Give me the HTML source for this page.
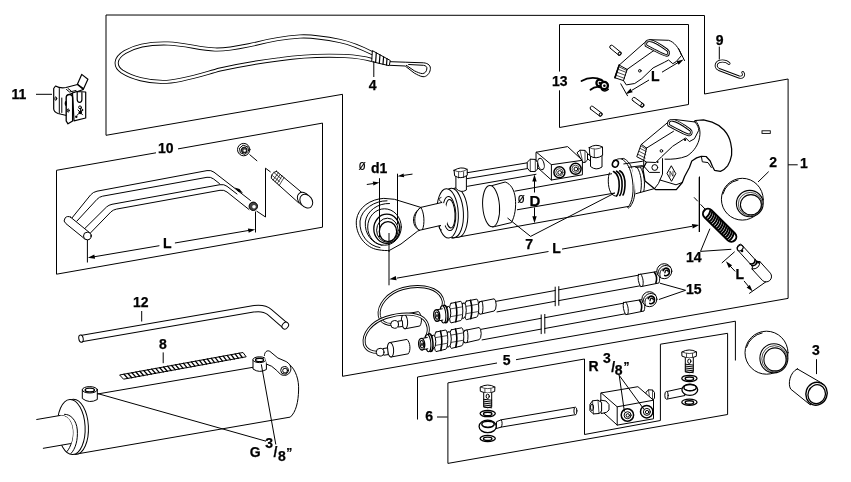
<!DOCTYPE html>
<html><head><meta charset="utf-8"><title>Hydraulic top link</title>
<style>
html,body{margin:0;padding:0;background:#fff;}
svg{display:block;}
text{font-family:"Liberation Sans",Arial,sans-serif;font-weight:bold;font-size:14px;fill:#000;stroke:#000;stroke-width:.25px;}
.s{font-weight:normal;font-size:13px;stroke-width:.15px;}
.f{fill:none;stroke:#000;stroke-width:1;}
.p{fill:#fff;stroke:#000;stroke-width:1;stroke-linejoin:round;stroke-linecap:round;}
.n{fill:none;stroke:#000;stroke-width:1;stroke-linejoin:round;stroke-linecap:round;}
.t{fill:none;stroke:#000;stroke-width:0.7;stroke-linejoin:round;stroke-linecap:round;}
.b{fill:none;stroke:#000;stroke-width:1.6;stroke-linejoin:round;stroke-linecap:round;}
.k{fill:#000;stroke:none;}
</style></head><body>
<svg width="851" height="482" viewBox="0 0 851 482">
<rect width="851" height="482" fill="#fff"/>
<g class="f">
<path d="M106,15 L704.5,15.5 V94 L788.1,79 V298.4 L342.5,376.3 V94.3 L106,135.3 Z"/>
<path d="M156,152.8 L56.5,170.3 V274.2 L322.5,227.2 V123.1 L178,148.9"/>
<path d="M559.5,71.6 V24.5 H688.5 V104.5 L559.5,127.5 V90.3"/>
<path d="M497,363 L417.5,377 V419.5"/>
<path d="M516,359.7 L735.4,321.2 V360.5"/>
<path d="M447.9,382.9 L584.5,359 V434.5 L660.4,420.5 V344.2 L727.6,333.3 V414.5 L447.9,463.4 Z"/>
<path d="M788.1,164.8 H797.7"/>
<path d="M437,417 H447.5"/>
</g>
<path d="M373,53.5 C 362,48 352,43.5 340,41 C 325,38 312,35.8 300,36.5 C 285,37.5 270,40 255,44 C 240,47 228,50 215,49.5 C 200,49 185,44 168,43.5 C 150,43 135,46 125,52 C 115,58 114,66 122,71.5 C 132,78 148,82 163,82 C 180,82 200,75 220,69.5 C 245,64 265,61 280,59.2 C 300,56.2 320,55 345,56 C 355,56.5 365,58 372,60" fill="none" stroke="#000" stroke-width="4.1" stroke-linecap="butt"/>
<path d="M373,53.5 C 362,48 352,43.5 340,41 C 325,38 312,35.8 300,36.5 C 285,37.5 270,40 255,44 C 240,47 228,50 215,49.5 C 200,49 185,44 168,43.5 C 150,43 135,46 125,52 C 115,58 114,66 122,71.5 C 132,78 148,82 163,82 C 180,82 200,75 220,69.5 C 245,64 265,61 280,59.2 C 300,56.2 320,55 345,56 C 355,56.5 365,58 372,60" fill="none" stroke="#fff" stroke-width="2.3" stroke-linecap="butt"/>
<path class="p" d="M372.7,50.8 L390.3,60.5 L389.2,65.7 L372.1,61.7 Z"/>
<path class="n" d="M376.3,52.8 L375.6,62.5 M380,54.8 L379.3,63.4 M383.6,56.8 L383,64.2 M387,58.7 L386.5,65" style="stroke-width:1.2"/>
<path class="n" d="M390.3,61.7 L405.2,62.2 L423.4,62.8 C 428.5,63.2 431,66 430.3,69.5 C 429.8,73.5 426.5,77 423,76.7 C 420,76.4 417,74.5 414.3,73.1 L405.2,66 L389.8,65.3"/>
<path class="n" d="M408.6,64.5 L423.4,65.3 C 426,65.6 427.3,67 426.8,69 C 426.5,71.5 425,73.5 422.3,73.6 C 420,73.5 417,72 414.3,70.8 L406.3,65.3"/>
<path class="f" d="M373.8,61 V77"/>
<g style="stroke-width:1.2">
<path class="f" d="M36,94.3 H52"/>
<path class="p" d="M77.4,84.3 L81.7,74.4 L87.9,79.3 L83.6,88.7 Z" style="stroke-width:1.2"/>
<path class="p" d="M55.5,86 L53.7,88.5 V109 Q54,112 58,113.5 L66.5,115.5 L66.5,96 L72.5,93 L77.5,91.5 L83.4,89.5 L77.5,84.5 L66,87.5 Q60,88.5 55.5,86 Z" style="stroke-width:1.2"/>
<path class="n" d="M59.3,88.5 V113 M61.8,98 V112.5 M66.5,89.5 L69.5,92 L76,90.5 M68,88.5 L71,90.8"/>
<path class="p" d="M72.5,93 L77,91.5 L85.7,92 V118 L74,120.8 Z" style="stroke-width:1.2"/>
<path class="p" d="M66.2,98 Q66.2,94.5 69.5,94.5 Q72.6,94.5 72.6,98 V121 L68,123.8 L66.2,121 Z" style="stroke-width:1.3"/>
<path class="n" d="M77.2,92 V99.5 Q77.4,102.3 79.5,102.3 Q81.9,102.3 81.9,99.5 V92.5" style="stroke-width:1.2"/>
<ellipse class="n" cx="55.8" cy="98.6" rx="0.9" ry="1.8"/>
<ellipse class="k" cx="65.8" cy="103.5" rx="1.1" ry="2.4"/>
<ellipse class="n" cx="68.2" cy="110.5" rx="0.9" ry="1.7"/>
<circle class="n" cx="80" cy="107.3" r="1.4"/>
<circle class="k" cx="80.3" cy="112.5" r="1.7"/>
<circle class="k" cx="76.3" cy="116.7" r="1.2"/>
<circle class="n" cx="81.5" cy="110" r="1.2"/>
<path class="n" d="M78,110 L82.5,114.8 M77.3,115 L82,110.5"/>
</g>
<g>
<path class="n" d="M71.7,218.3 L90.5,195 Q93,192 97,191.2 L207,170.6 Q211,169.9 214,172.2 L250.5,200.5"/>
<path class="n" d="M76.8,221.2 L97,199.3 Q99.2,196.9 102.5,196.2 L207,177.3 Q210.6,176.7 213.5,178.9 L219.5,183.6"/>
<path class="n" d="M85.1,228.2 L106.5,207 Q108.7,205 112,204.3 L220,184.7 Q224,184 227,186.3 L237,194"/>
<path class="n" d="M90.7,232.7 L111,211.8 Q113.1,209.8 116.5,209.1 L220,190.3 Q224,189.6 227,192 L249,209.5"/>
<path class="p" d="M70.6,217.2 L89.6,232.7 A3.8,3.8 0 1 1 84.9,239 L65.9,223.6 A3.9,3.9 0 0 1 70.6,217.2 Z"/>
<circle class="p" cx="87.3" cy="236" r="3.8"/>
<path class="k" d="M234.5,187.5 L239.5,189 L243,193.2 L238,191.5 Z"/>
<circle cx="253.3" cy="206.3" r="4.2" fill="#444" stroke="#000" stroke-width="1"/>
<circle cx="254" cy="206.8" r="1.8" fill="#fff"/>
<path class="f" d="M87.4,240 V262.5 M255.5,211.5 V232.5 M94,256.8 L159.4,245.7 M174.9,243 L249,230.4"/>
</g>
<path class="k" d="M87.8,257.8 L94.3,254.5 L95.1,258.8 Z"/>
<path class="k" d="M255.2,229.4 L248.7,232.7 L247.9,228.4 Z"/>
<g>
<circle class="p" cx="243.7" cy="149.6" r="6.2"/>
<path class="n" d="M248.3,151.4 L244.7,154.4 L240.3,152.8 L239.5,148.2 L243.1,145.2 L247.5,146.8 Z"/>
<circle cx="244.2" cy="150.1" r="2.9" fill="#444" stroke="#000" stroke-width="0.9"/>
<circle cx="244.7" cy="150.6" r="1.2" fill="#fff"/>
<path class="f" d="M249.5,154.5 L257.2,161 M270.6,172 L265.5,168.2 V217 L256.5,211"/>
<path class="p" d="M276.5,171.3 L304.3,194.6 L298.7,202.9 L271.3,178.3 Q270.8,173 276.5,171.3 Z"/>
<path class="t" d="M278.3,172.8 L273.2,180 M280.2,174.4 L275.2,181.8 M282.1,176 L277.2,183.6 M284,177.6 L279.2,185.4 M274,172.6 L281,178.5 M272,175.3 L279.5,181.5"/>
<ellipse class="p" cx="303.8" cy="199.2" rx="5.8" ry="7.4" transform="rotate(-38 303.8 199.2)"/>
<ellipse class="p" cx="306.3" cy="201.2" rx="5.8" ry="7.4" transform="rotate(-38 306.3 201.2)"/>
</g>
<path class="f" d="M389,233 V285.3 M699.5,176.5 V232 M397,278.1 L548.5,251.5 M562,249.1 L692,226.3"/>
<path class="k" d="M389.3,279.3 L395.8,275.9 L396.6,280.3 Z"/>
<path class="k" d="M699.2,225.0 L692.7,228.4 L691.9,224.0 Z"/>
<g>
<path class="p" d="M383.4,198.4 C 371,199 358,207 356.4,220.2 C 355,235 366,248 378,249.7 C 383,250.6 387,250.8 389.6,250.3 L401,244 L417.6,231.2 L419.5,230.3 C 414,227 412,214 420.8,207.4 L394.8,199.4 Z"/>
<path class="n" d="M387,200.8 C 375,200.5 361.5,209 360,221 C 359,235 368.5,246 380,247.6"/>
<path class="n" d="M389.5,203.5 C 378,203 366.5,211 365.3,222 C 364.5,234 372,243.5 382,245.3"/>
<ellipse class="p" cx="384.5" cy="227" rx="16.8" ry="18.2"/>
<ellipse class="n" cx="386.8" cy="228.8" rx="13" ry="14.6" style="stroke-width:1.3"/>
<ellipse class="n" cx="387.4" cy="230.2" rx="10.8" ry="12"/>
<ellipse class="p" cx="388" cy="231.6" rx="8.7" ry="10" style="stroke-width:1.3"/>
</g>
<path class="f" d="M389,233 V252"/>
<path class="f" d="M379.5,178.2 V237 M397.5,173.7 V224.5 M366.8,184.5 L373,183.6 M412.5,174.1 L404,175.3"/>
<path class="k" d="M379.5,182.6 L373.4,185.5 L372.8,181.6 Z"/>
<path class="k" d="M397.5,176.3 L403.6,173.4 L404.2,177.3 Z"/>
<g>
<path class="p" d="M452,189 L610,161 L630,206.5 L452,238.2 Z" style="stroke:none"/>
<path class="n" d="M467.5,186.3 L536,174.3 M452,238.2 L630.7,206"/>
<!-- front cap -->
<ellipse class="p" cx="457" cy="212.6" rx="10.8" ry="24.6" transform="rotate(-3 457 212.6)"/>
<ellipse class="p" cx="452.6" cy="213" rx="10.8" ry="24.7" transform="rotate(-3 452.6 213)"/>
<ellipse class="p" cx="447.6" cy="213.4" rx="10.7" ry="24.7" transform="rotate(-3 447.6 213.4)"/>
<ellipse class="n" cx="449.2" cy="213.6" rx="6.6" ry="17" transform="rotate(-3 449.2 213.6)"/>
<ellipse class="n" cx="450.2" cy="213.8" rx="4.8" ry="14.2" transform="rotate(-3 450.2 213.8)"/>
<path class="p" d="M420.8,209.8 L441.8,202.5 C 444.5,203 447.5,206 448.6,213 C 449.2,220 447,225 443.5,226.5 L440.4,225.5 L422.8,229.5 C 424.8,224 424.3,214.5 420.8,209.8 Z" style="stroke:none"/>
<path class="n" d="M420.8,207.4 L441.8,202.5 M419.5,230.3 L440.4,225.5 M441.8,202.5 C 438.5,199.5 438,198.8 441,197.5 M440.4,225.5 C 438.5,227.5 439,229 441.5,230"/>
<path class="n" d="M420.8,207.4 C 416,210.5 413.5,215.5 413.5,220 C 413.6,225 416,228.8 419.5,230.3"/>
<path class="n" d="M420.8,207.4 C 424.3,212 425,224 422.5,229.6"/>
<!-- port on cap -->
<path class="p" d="M455.9,175.5 L455.9,188.5 Q461,193.5 466.4,190 L466.4,174.5 Z"/>
<path class="p" d="M454.1,170.3 L454.6,175.8 Q460.8,179.8 467.3,175.3 L467.2,169.3 Q461,166 454.1,170.3 Z"/>
<path class="t" d="M454.1,170.3 Q460.5,173.8 467.2,169.3 M458.6,172.4 V178 M463.6,172 V177.6"/>
<!-- pipe from port to block -->
<path class="n" d="M467.3,172.7 L528.7,162.6 M467.3,178.6 L529,168.3"/>
<!-- disc 7 -->
<path class="p" d="M492,185.6 L505.2,182 C 511,184 514.3,190 515.3,198 C 516.3,207 515,216 511.4,222.6 L492.9,227 Z"/>
<ellipse class="p" cx="491.1" cy="206.2" rx="8.4" ry="20.7" transform="rotate(-4 491.1 206.2)"/>
<path class="f" d="M514.5,191.2 L612,173.7 M517,209.8 L614.8,193"/>
<path class="f" d="M530.6,236.4 L507.5,218 M530.6,236.4 L614.8,193"/>
</g>
<path class="f" d="M534.5,180 V192.5 M534.5,207.5 V217.5"/>
<path class="k" d="M534.5,174.6 L536.7,181.6 L532.3,181.6 Z"/>
<path class="k" d="M534.5,223.2 L532.3,216.2 L536.7,216.2 Z"/>
<g>
<path class="p" d="M536.4,152.2 L567.6,146.6 L582.4,160.3 L582.4,174.8 L551.4,180 L536.4,166.6 Z"/>
<path class="n" d="M536.4,152.2 L551.4,164.7 L582.4,160.3 M551.4,164.7 V180"/>
<ellipse class="n" cx="541" cy="164" rx="3" ry="5.8" transform="rotate(-15 541 164)"/>
<circle class="p" cx="559.4" cy="172.3" r="5.5" style="stroke-width:1.5"/><circle class="t" cx="559.4" cy="172.3" r="3.6"/><circle class="n" cx="559.7" cy="172.5" r="1.9"/>
<circle class="p" cx="575.6" cy="168.8" r="5.5" style="stroke-width:1.5"/><circle class="t" cx="575.6" cy="168.8" r="3.6"/><circle class="n" cx="575.9" cy="169" r="1.9"/>
<!-- left nut -->
<path class="p" d="M527.5,162 L530.3,159.2 L535.3,159.4 L537.6,162.5 L537.6,169 L535,171.6 L530,171.4 L527.5,168.3 Z"/>
<path class="t" d="M530.3,159.2 V171.4 M535.3,159.4 V171.6"/>
<!-- right nut on block -->
<path class="p" d="M577.3,152.5 L580,150.2 L585,150.4 L587.5,153.3 L587.5,160 L585,162.4 L583.5,162.4 Z"/>
<path class="t" d="M580,150.2 L582.3,160 M585,150.4 V162.2"/>
<!-- elbow port -->
<path class="p" d="M590.5,155.5 V166.5 Q596,171 602,167 V154 Z"/>
<path class="p" d="M589.3,147.5 L589.8,155.8 Q596,160 602.6,155.3 L602.5,147 Q596,143.3 589.3,147.5 Z"/>
<path class="t" d="M589.3,147.5 Q595.5,151 602.5,147 M594.3,149.6 V157.4"/>
<path class="n" d="M587.5,154 L590,155 M587.5,158.5 L590.3,161"/>
<!-- small plug -->
<ellipse class="p" cx="615.4" cy="163.7" rx="2.9" ry="3.5" transform="rotate(20 615.4 163.7)" style="stroke-width:1.6"/>
</g>
<g>
<path class="b" d="M613.5,171.6 C 617.8,173.5 619.6,180 619.2,186 C 618.9,191 618,194.5 616.6,196"/>
<path class="b" d="M616.6,171.2 C 620.8,173.2 622.5,180 622.1,186 C 621.8,190.8 621,194 619.8,195.5"/>
<path class="b" d="M619.7,170.8 C 623.8,172.8 625.4,179.5 625,185.5 C 624.7,190.3 624,193.5 623,195"/>
<path class="n" d="M609.5,172.8 C 607.6,176.5 607.8,187 610.5,192 C 612,195 614.5,196.5 616.6,196"/>
<path class="p" d="M621.9,159 C 626,161.5 629.5,166.5 631.3,174 C 633.3,182 633.5,190 632.5,196 C 631.7,201 630,205.5 627.7,207.4 L628.3,208.2 C 631.5,206 633.8,201 634.6,195 C 635.8,187 635.3,179 633.3,172 C 631.3,165 628,160.5 624,158.6 Z"/>
<path class="n" d="M621.9,159 C 618.5,158 615.5,159.5 613.5,162"/>
</g>
<g>
<!-- neck from flange -->
<path class="p" d="M632,167.8 L644.1,166.5 L654.8,188.5 L635.8,193.7 Z" style="stroke:none"/>
<path class="n" d="M635.8,167.5 L644.1,166.5 M635.8,193.7 L654.8,188.5"/>
<path class="n" d="M623.8,163.9 L642.4,161.3 M628.6,167.3 L642.4,165.6"/>
<path class="n" d="M637.5,168 C 641,173 642.5,184 640.5,192.3 M640.5,167.5 C 644,172.5 645.5,183 643.8,191.3"/>
<!-- hook body -->
<path class="p" d="M695.4,120.5 L703.5,119.8 L712.1,122.2 C 717,124 721,127 724,130 C 727.5,134 729.8,138.5 730.7,143.1 C 731.8,147.5 732,151.5 731.6,155.1 C 730.8,159.5 729.5,163 727.6,165.8 C 725.5,168.5 723,170.3 720.4,171.3 L714.5,170.3 L712.5,166.5 L710.2,161 L706.1,156.5 L701.3,156.3 L696.6,157.9 L691.8,161 L689.4,167.5 L684.6,176.5 L682.3,182.5 L676.3,189.6 L655.5,189.6 L645,181 L642.9,168.9 L646.5,162 L680,140 Z" style="stroke-width:1.25"/>
<path class="n" d="M695.4,120.5 C 700,126 701,132.5 699,140 C 697,147 692.5,152.5 687,156 C 680,158.8 672,159.5 665,159.2"/>
<path class="n" d="M701.5,157 L702.3,161.8 L708,162.6 L711.3,167.5"/>
<!-- clevis block -->
<path class="n" d="M643.7,160.3 L643.7,166 L649.3,172.4 L659.5,172.4 M662.5,158.6 V174.1 L658.4,183.6 L654.5,188.6 M660,180 L676,184.8 L682.3,182.5"/>
<circle class="n" cx="654.8" cy="167.5" r="2.9"/>
<circle class="k" cx="657.5" cy="162" r="1.1"/>
<path class="n" d="M671.5,166.1 L675.8,173.7 L671.5,181.3 L667.2,173.7 Z"/>
<path class="t" d="M670,176.3 V171.2 L673,176.3 V171.2"/>
</g>
<g transform="translate(0,0)">
<path class="p" d="M641.4,144.4 L667.6,122.6 L670.5,120.3 L676,119.6 L695,122 C 697.5,125 698.9,128 698.7,130.4 L694.4,138.8 L689.4,141.6 L685.7,137.9 L682.9,139.7 L672.6,146.3 L661.4,156.9 L655.8,162.5 L646.5,162.1 L643.7,160.3 L637.1,156.9 Z"/>
<path class="n" d="M646.5,148.1 L673.5,131.3 M646.5,148.1 L641.4,144.4 M646.5,148.1 L643.7,160.3"/>
<path class="t" d="M638.3,154.5 L645.2,158 M639.4,151.5 L645.8,154.8 M640.3,148.5 L646.2,151.5 M641.2,146 L646.4,149.5"/>
<circle class="n" cx="661.4" cy="150.9" r="1.3"/>
<circle class="k" cx="685.1" cy="139.9" r="1.1"/>
<path d="M668.6,125.2 C 667.6,122 669.5,120 672.5,120.3 C 676,120.6 680,122.5 690,129.8 C 692,131.5 691.6,134.6 689.5,134.9 C 687.5,135.1 684,133.5 668.6,125.2 Z" fill="#fff" stroke="#000" stroke-width="2.7" stroke-linejoin="round"/>
<path d="M668.6,125.2 C 667.6,122 669.5,120 672.5,120.3 C 676,120.6 680,122.5 690,129.8 C 692,131.5 691.6,134.6 689.5,134.9 C 687.5,135.1 684,133.5 668.6,125.2 Z" fill="none" stroke="#fff" stroke-width="1" stroke-linejoin="round"/>
</g>
<path class="f" d="M699.2,177.2 V232 M694,197.3 L697.8,201.3 M700.5,204.3 L705,209"/>
<g><path d="M711.5,210.2 L734.8,233.2 A5.0,5.0 0 0 1 727.8,240.4 L704.5,217.4 A5.0,5.0 0 0 1 711.5,210.2 Z" fill="#fff" stroke="#000" stroke-width="2"/><path d="M710.5,209.6 Q709.6,215.3 705.5,218.0" fill="none" stroke="#000" stroke-width="1.9"/><path d="M712.3,211.3 Q711.4,217.1 707.3,219.8" fill="none" stroke="#000" stroke-width="1.9"/><path d="M714.1,213.1 Q713.2,218.9 709.1,221.6" fill="none" stroke="#000" stroke-width="1.9"/><path d="M715.9,214.9 Q714.9,220.7 710.9,223.3" fill="none" stroke="#000" stroke-width="1.9"/><path d="M717.7,216.7 Q716.7,222.4 712.7,225.1" fill="none" stroke="#000" stroke-width="1.9"/><path d="M719.4,218.4 Q718.5,224.2 714.5,226.9" fill="none" stroke="#000" stroke-width="1.9"/><path d="M721.2,220.2 Q720.3,226.0 716.3,228.6" fill="none" stroke="#000" stroke-width="1.9"/><path d="M723.0,222.0 Q722.1,227.7 718.1,230.4" fill="none" stroke="#000" stroke-width="1.9"/><path d="M724.8,223.7 Q723.9,229.5 719.9,232.2" fill="none" stroke="#000" stroke-width="1.9"/><path d="M726.6,225.5 Q725.7,231.3 721.6,233.9" fill="none" stroke="#000" stroke-width="1.9"/><path d="M728.4,227.3 Q727.5,233.0 723.4,235.7" fill="none" stroke="#000" stroke-width="1.9"/><path d="M730.2,229.0 Q729.3,234.8 725.2,237.5" fill="none" stroke="#000" stroke-width="1.9"/><path d="M732.0,230.8 Q731.1,236.6 727.0,239.3" fill="none" stroke="#000" stroke-width="1.9"/><path d="M733.8,232.6 Q732.9,238.3 728.8,241.0" fill="none" stroke="#000" stroke-width="1.9"/></g>
<path class="f" d="M700.5,251.4 L709.9,228.7 M700.5,251.4 L731.3,249.3"/>
<g><path class="p" d="M742.6,245.8 L757.4,262.1 L760.0,261.7 L770.4,273.2 A5.4,5.4 0 0 1 762.5,280.5 L752.0,269.0 L752.6,266.5 L737.8,250.2 A2.6,3.3 0 0 1 742.6,245.8 Z"/><ellipse class="n" cx="740.2" cy="248.0" rx="2.5" ry="3.3" transform="rotate(47.7 740.2 248.0)"/><circle class="k" cx="742.1" cy="251.0" r="1.2"/><path class="b" d="M755.1,259.5 Q755.1,264.4 750.2,263.9"/><path class="b" d="M756.6,261.2 Q756.7,266.1 751.8,265.6"/><path class="n" d="M760.0,261.7 Q759.7,269.4 752.0,269.0"/><path class="k" d="M756.3,260.4 L760.2,261.6 L757.9,264.3 Z"/></g>
<path class="f" d="M734.7,251.7 L721.8,263 M766.2,281.6 L749.2,293.5 M729.5,265.4 L735.2,271.4 M744,280.9 L749.5,287.6"/>
<path class="k" d="M725.9,261.3 L732.1,265.2 L728.9,268.0 Z"/>
<path class="k" d="M752.7,291.6 L746.6,287.6 L749.8,284.9 Z"/>
<g>
<circle class="p" cx="742.3" cy="199.2" r="20.9"/>
<path class="n" d="M722.9,194.0 A20.1,20.1 0 0 1 738.1,180.0"/>
<ellipse class="p" cx="749.8" cy="203.6" rx="13.4" ry="13.2" style="stroke-width:1.1"/>
<ellipse class="t" cx="750.3" cy="204.1" rx="12.0" ry="11.7"/>
<ellipse class="n" cx="750.9" cy="204.7" rx="10.5" ry="10.1" style="stroke-width:1.1"/>
</g>
<path class="f" d="M768.7,171.6 L758,182"/>
<g>
<circle class="p" cx="766.5" cy="352.7" r="21.5"/>
<path class="n" d="M746.5,347.3 A20.6,20.6 0 0 1 762.2,332.9"/>
<ellipse class="p" cx="773.9" cy="358.3" rx="14" ry="14.6" style="stroke-width:1.1"/>
<ellipse class="t" cx="774.4" cy="358.8" rx="12.6" ry="13.1"/>
<ellipse class="n" cx="775.0" cy="359.40000000000003" rx="11.1" ry="11.5" style="stroke-width:1.1"/>
</g>
<g>
<path class="p" d="M797.3,368.9 L822.5,383.5 L810.3,404.9 L790.7,389.1 C 787.5,384 790,372 797.3,368.9 Z"/>
<ellipse class="p" cx="816.5" cy="393.7" rx="10.6" ry="11.6" transform="rotate(20 816.5 393.7)" style="stroke-width:1.4"/>
<ellipse class="n" cx="816.7" cy="394.2" rx="8.6" ry="9.6" transform="rotate(20 816.7 394.2)" style="stroke-width:1.3"/>
<path class="f" d="M816.5,359.2 V374.1"/>
</g>
<g>
<path class="f" d="M719.3,46.6 V59.5"/>
<path d="M729,63.5 C 726,60.3 719,60 716.7,63.5 C 715.5,66 716.5,68.2 719,69.5 L 739,77 C 742.5,78 744.8,75.5 742.8,72.5" fill="none" stroke="#000" stroke-width="3" stroke-linecap="round" stroke-linejoin="round"/>
<path d="M729,63.5 C 726,60.3 719,60 716.7,63.5 C 715.5,66 716.5,68.2 719,69.5 L 739,77 C 742.5,78 744.8,75.5 742.8,72.5" fill="none" stroke="#fff" stroke-width="1.3" stroke-linecap="round" stroke-linejoin="round"/>
<rect x="762" y="130.8" width="8.3" height="2.6" fill="#fff" stroke="#000" stroke-width="0.9"/>
</g>
<g>
<path class="p" d="M619.2,65.1 L644.6,42.6 L650.2,39.7 L668.6,40.3 C 674,42 678.5,47 681.5,55.5 L676,61.8 L672.8,63.7 L668.6,60 L664.3,62.3 L653.1,67.9 L641.8,78.7 L634.7,83.5 L626.3,84.9 L623.5,80.6 L615,77.8 Z"/>
<path class="n" d="M627.1,69.4 L653.1,51 L660,49 M627.1,69.4 L619.2,65.1 M627.1,69.4 L623.5,80.6"/>
<path class="t" d="M616.2,75.3 L624.3,78.3 M617.3,72.3 L625.3,75.3 M618.3,69.3 L626.2,72.4 M619,66.8 L626.8,70.5"/>
<path class="n" d="M615,77.8 L619.2,65.1" style="stroke-width:1.6"/>
<circle class="n" cx="639.8" cy="70.8" r="1.3"/>
<path d="M668.6,125.2 C 667.6,122 669.5,120 672.5,120.3 C 676,120.6 680,122.5 690,129.8 C 692,131.5 691.6,134.6 689.5,134.9 C 687.5,135.1 684,133.5 668.6,125.2 Z" fill="#fff" stroke="#000" stroke-width="2.7" stroke-linejoin="round" transform="translate(-22.6,-79.6)"/>
<path d="M668.6,125.2 C 667.6,122 669.5,120 672.5,120.3 C 676,120.6 680,122.5 690,129.8 C 692,131.5 691.6,134.6 689.5,134.9 C 687.5,135.1 684,133.5 668.6,125.2 Z" fill="none" stroke="#fff" stroke-width="1" stroke-linejoin="round" transform="translate(-22.6,-79.6)"/></g>
<path class="p" d="M610.2,48.2 L618.5,55.0 A1.8,1.8 0 0 0 620.7,52.2 L612.4,45.4 A1.8,1.8 0 0 0 610.2,48.2 Z"/><ellipse class="n" cx="619.6" cy="53.6" rx="1.3" ry="1.8" transform="rotate(39.3 619.6 53.6)"/>
<path class="p" d="M632.9,100.8 L641.1,106.8 A1.8,1.8 0 0 0 643.3,103.8 L635.1,97.8 A1.8,1.8 0 0 0 632.9,100.8 Z"/><ellipse class="n" cx="642.2" cy="105.3" rx="1.3" ry="1.8" transform="rotate(36.2 642.2 105.3)"/>
<path class="p" d="M590.6,109.2 L599.5,115.9 A1.8,1.8 0 0 0 601.7,113.1 L592.8,106.4 A1.8,1.8 0 0 0 590.6,109.2 Z"/><ellipse class="n" cx="600.6" cy="114.5" rx="1.3" ry="1.8" transform="rotate(37.0 600.6 114.5)"/>
<g>
<path class="b" d="M581.5,81 C 586,78.3 592,77.3 597.5,78.3 L601,80 M590.5,89.7 C 593.5,87.3 597,86.5 600,87.3" style="stroke-width:1.8"/>
<circle cx="599.8" cy="83" r="3.4" fill="#fff" stroke="#000" stroke-width="2.2"/>
<circle cx="604.2" cy="85.6" r="3.7" fill="#fff" stroke="#000" stroke-width="2.4"/>
<circle cx="604.4" cy="85.8" r="1.3" fill="#000"/>
<circle cx="599.8" cy="83" r="1.2" fill="#000"/>
<path class="b" d="M601.5,89.5 C 603.5,91.5 606.5,91.3 608.3,89.3" style="stroke-width:1.5"/>
</g>
<path class="f" d="M620.6,83.5 L627.7,96.1 M678.4,48.2 L684.7,60.9 M632,90.2 L649,80 M662,72.2 L678,62.6" style="stroke:#000"/>
<path class="k" d="M625.6,94.0 L630.5,88.6 L632.7,92.2 Z"/>
<path class="k" d="M683.6,59.4 L678.7,64.8 L676.5,61.2 Z"/>
<g transform="translate(0,0)"><path class="p" d="M495,301.5 L638.4,275.2 L640.1999999999999,285.8 L497,311.9 Z" style="stroke:none"/><path class="n" d="M495,301.5 L555.2,290.5 M558.8,289.8 L638.4,275.2 M497,311.9 L555.2,301.3 M558.8,300.6 L640.1999999999999,285.8"/><path class="f" d="M555.2,286.7 V306.2 M558.8,286.2 V305.7" style="stroke:#000"/><path class="p" d="M638.4,274.6 L657.4,271.5 C659.9,274.7 660.1999999999999,279.7 658.9,283.0 L640.6,286.7 C638.6,283.1 637.4,278.2 638.4,274.6 Z"/><path class="n" d="M640.9,274.1 C643.4,278.2 643.6,283.1 642.8,285.8"/><path class="b" d="M654.4,272.3 C656.9,274.7 657.1,279.7 655.9,282.9"/><circle class="p" cx="664.3" cy="271.2" r="7.5"/><path class="n" d="M657.9,274.2 C658.0,266.7 665.1,263.2 670.1,266.9"/><path class="b" d="M663.1,270.6 C664.9,266.4 670.1,268.0 669.3,273.0 C668.8,275.2 666.5,276.2 664.7,275.4"/><path class="n" d="M664.9,272.8 C665.1,269.6 668.1,269.4 668.1,271.8" style="stroke-width:1.3"/><path class="n" d="M660.3,277.4 C658.9,273.0 660.7,269.4 662.9,269.0"/></g>
<g transform="translate(-14.9,28.0)"><path class="p" d="M495,301.5 L638.4,275.2 L640.1999999999999,285.8 L497,311.9 Z" style="stroke:none"/><path class="n" d="M495,301.5 L556.1,290.3 M559.6999999999999,289.7 L638.4,275.2 M497,311.9 L556.1,301.1 M559.6999999999999,300.5 L640.1999999999999,285.8"/><path class="f" d="M556.1,286.5 V306.1 M559.6999999999999,286.0 V305.6" style="stroke:#000"/><path class="p" d="M638.4,274.6 L657.4,271.5 C659.9,274.7 660.1999999999999,279.7 658.9,283.0 L640.6,286.7 C638.6,283.1 637.4,278.2 638.4,274.6 Z"/><path class="n" d="M640.9,274.1 C643.4,278.2 643.6,283.1 642.8,285.8"/><path class="b" d="M654.4,272.3 C656.9,274.7 657.1,279.7 655.9,282.9"/><circle class="p" cx="664.3" cy="271.2" r="7.5"/><path class="n" d="M657.9,274.2 C658.0,266.7 665.1,263.2 670.1,266.9"/><path class="b" d="M663.1,270.6 C664.9,266.4 670.1,268.0 669.3,273.0 C668.8,275.2 666.5,276.2 664.7,275.4"/><path class="n" d="M664.9,272.8 C665.1,269.6 668.1,269.4 668.1,271.8" style="stroke-width:1.3"/><path class="n" d="M660.3,277.4 C658.9,273.0 660.7,269.4 662.9,269.0"/></g>
<path class="p" d="M404.1,314.3 L418.5,311.6 C422.0,314.8 422.3,322.8 419.8,326.0 L405.1,328.8 Z"/><ellipse class="p" cx="404.5" cy="321.5" rx="3.1" ry="7.3" transform="rotate(-5 404.5 321.5)"/>
<path class="p" d="M398.2,321.2 L402.3,320.6 L402.8,326.4 L398.6,327 Z"/>
<path d="M394.6,324.4 C 388,325 381,323 379.3,316 C 377.5,305 388,292.5 403,288.5 C 418,284.5 433,286.5 440,294.5 C 443.5,299 444.5,304.5 441.5,308.5" fill="none" stroke="#000" stroke-width="3" stroke-linecap="round"/><path d="M394.6,324.4 C 388,325 381,323 379.3,316 C 377.5,305 388,292.5 403,288.5 C 418,284.5 433,286.5 440,294.5 C 443.5,299 444.5,304.5 441.5,308.5" fill="none" stroke="#fff" stroke-width="1.2" stroke-linecap="round"/>
<circle class="p" cx="394.6" cy="324.4" r="3.9"/>
<g transform="translate(0,0)"><path class="p" d="M479.8,301.7 L494.2,298.8 Q496.0,299.8 496.2,304.9 Q496.0,310.0 494.2,311.0 L479.8,314.3 Q478.2,313.3 478.0,308.0 Q478.2,302.7 479.8,301.7 Z"/><path class="n" d="M482,301.1 C483.3,304.3 483.3,310.3 482.3,313.5"/><path class="p" d="M466.3,301.1 L476.8,299.1 Q478.6,300.1 478.8,308.1 Q478.6,316.1 476.8,317.1 L466.3,319.7 Q464.7,318.7 464.5,310.4 Q464.7,302.1 466.3,301.1 Z"/><path class="t" d="M465.5,306.5 L478.0,304.2 M465.5,313.8 L478.0,311.6"/><path class="b" d="M470.5,300.2 C472,305.4 472,313.4 470.8,318.6"/><path class="p" d="M462.7,303.5 L464.3,302.8 Q466.1,303.8 466.3,310.3 Q466.1,316.8 464.3,317.8 L462.7,318.5 Q461.1,317.5 460.9,311.0 Q461.1,304.5 462.7,303.5 Z"/><path class="p" d="M451.0,303.3 L460.8,301.3 Q462.6,302.3 462.8,310.9 Q462.6,319.5 460.8,320.5 L451.0,322.9 Q449.4,321.9 449.2,313.1 Q449.4,304.3 451.0,303.3 Z"/><path class="t" d="M450.0,309.0 L462.0,306.9 M450.0,316.8 L462.0,314.6"/><path class="b" d="M455.5,302.4 C457,308.1 457,316.1 455.8,321.8"/><path class="p" d="M447.2,307.0 L448.8,306.3 Q450.6,307.3 450.8,313.1 Q450.6,318.9 448.8,319.9 L447.2,320.6 Q445.6,319.6 445.4,313.8 Q445.6,308.0 447.2,307.0 Z"/><ellipse class="p" cx="445" cy="314.0" rx="2.9" ry="8.9" transform="rotate(-5 445 314.0)" style="stroke-width:1.5"/><ellipse class="p" cx="443" cy="314.4" rx="2.8" ry="8.6" transform="rotate(-5 443 314.4)"/><path class="p" d="M436.7,309.8 L442.3,308.8 L442.8,320.1 L437,321.1 Z" style="stroke:none"/><path class="n" d="M436.7,309.8 L442.3,308.8 M437,321.1 L442.8,320.1"/><ellipse class="p" cx="436.7" cy="315.5" rx="3" ry="5.8" transform="rotate(-5 436.7 315.5)" style="stroke-width:1.4"/><ellipse class="n" cx="436.9" cy="315.6" rx="1.7" ry="3.7" transform="rotate(-5 436.9 315.6)"/><ellipse class="k" cx="437" cy="315.7" rx="0.8" ry="1.8"/></g>
<path class="p" d="M390.1,342.5 L407.0,339.4 C410.5,342.6 410.8,350.6 408.3,353.8 L391.1,357.0 Z"/><ellipse class="p" cx="390.5" cy="349.7" rx="3.1" ry="7.3" transform="rotate(-5 390.5 349.7)"/>
<path class="p" d="M383.4,348.5 L387.6,347.9 L388.2,354.6 L384,355.2 Z"/>
<path d="M380.1,352.2 C 373,353 366,350.5 364.3,344 C 362.5,334 371,322.5 386,317.5 C 400,313 416,312.5 423.5,318.5 C 428.5,323 430,331 426,337" fill="none" stroke="#000" stroke-width="3" stroke-linecap="round"/><path d="M380.1,352.2 C 373,353 366,350.5 364.3,344 C 362.5,334 371,322.5 386,317.5 C 400,313 416,312.5 423.5,318.5 C 428.5,323 430,331 426,337" fill="none" stroke="#fff" stroke-width="1.2" stroke-linecap="round"/>
<circle class="p" cx="380.1" cy="352.2" r="3.9"/>
<g transform="translate(-15,28.7)"><path class="p" d="M479.8,301.7 L494.2,298.8 Q496.0,299.8 496.2,304.9 Q496.0,310.0 494.2,311.0 L479.8,314.3 Q478.2,313.3 478.0,308.0 Q478.2,302.7 479.8,301.7 Z"/><path class="n" d="M482,301.1 C483.3,304.3 483.3,310.3 482.3,313.5"/><path class="p" d="M466.3,301.1 L476.8,299.1 Q478.6,300.1 478.8,308.1 Q478.6,316.1 476.8,317.1 L466.3,319.7 Q464.7,318.7 464.5,310.4 Q464.7,302.1 466.3,301.1 Z"/><path class="t" d="M465.5,306.5 L478.0,304.2 M465.5,313.8 L478.0,311.6"/><path class="b" d="M470.5,300.2 C472,305.4 472,313.4 470.8,318.6"/><path class="p" d="M462.7,303.5 L464.3,302.8 Q466.1,303.8 466.3,310.3 Q466.1,316.8 464.3,317.8 L462.7,318.5 Q461.1,317.5 460.9,311.0 Q461.1,304.5 462.7,303.5 Z"/><path class="p" d="M451.0,303.3 L460.8,301.3 Q462.6,302.3 462.8,310.9 Q462.6,319.5 460.8,320.5 L451.0,322.9 Q449.4,321.9 449.2,313.1 Q449.4,304.3 451.0,303.3 Z"/><path class="t" d="M450.0,309.0 L462.0,306.9 M450.0,316.8 L462.0,314.6"/><path class="b" d="M455.5,302.4 C457,308.1 457,316.1 455.8,321.8"/><path class="p" d="M447.2,307.0 L448.8,306.3 Q450.6,307.3 450.8,313.1 Q450.6,318.9 448.8,319.9 L447.2,320.6 Q445.6,319.6 445.4,313.8 Q445.6,308.0 447.2,307.0 Z"/><ellipse class="p" cx="445" cy="314.0" rx="2.9" ry="8.9" transform="rotate(-5 445 314.0)" style="stroke-width:1.5"/><ellipse class="p" cx="443" cy="314.4" rx="2.8" ry="8.6" transform="rotate(-5 443 314.4)"/><path class="p" d="M436.7,309.8 L442.3,308.8 L442.8,320.1 L437,321.1 Z" style="stroke:none"/><path class="n" d="M436.7,309.8 L442.3,308.8 M437,321.1 L442.8,320.1"/><ellipse class="p" cx="436.7" cy="315.5" rx="3" ry="5.8" transform="rotate(-5 436.7 315.5)" style="stroke-width:1.4"/><ellipse class="n" cx="436.9" cy="315.6" rx="1.7" ry="3.7" transform="rotate(-5 436.9 315.6)"/><ellipse class="k" cx="437" cy="315.7" rx="0.8" ry="1.8"/></g>
<path class="f" d="M685.6,290.3 L659.9,283.2 M685.6,290.3 L658.9,299.5"/>
<g>
<path class="p" d="M497,421.5 L501.2,419.8 L574.9,407.3 L575.9,414.6 L501.2,427.1 L496.5,428.5 Z"/>
<ellipse class="p" cx="575.4" cy="410.9" rx="1.5" ry="3.7"/>
<path class="n" d="M501.2,419.8 C502.5,422 502.5,425 501.2,427.1"/>
<ellipse class="p" cx="487.7" cy="426.4" rx="8.6" ry="6.3" style="stroke-width:1.3"/><ellipse class="n" cx="488.0" cy="424.3" rx="6.2" ry="3.1" style="stroke-width:1.5"/><path class="n" d="M482.5,425.7 Q487.7,429.2 493.3,425.7"/>
<g><path class="p" d="M480.5,387.0 Q487.7,383.0 494.9,387.0 L494.7,391.40000000000003 Q487.7,394.6 480.7,391.40000000000003 Z"/><path class="t" d="M480.5,387.0 Q487.7,390.40000000000003 494.9,387.0 M484.9,388.8 V393.1 M490.9,388.7 V393.0"/><path class="p" d="M483.7,392.8 V406.8 Q487.7,408.8 491.7,406.8 V392.8"/><ellipse class="n" cx="487.7" cy="396.3" rx="1.6" ry="2.2"/><path class="n" d="M483.7,399.3 L491.7,400.2 M483.7,401.2 L491.7,402.1 M483.7,403.1 L491.7,404.0 M483.7,405.0 L491.7,405.9 M483.7,406.9 L491.7,407.8 "/></g>
<ellipse class="p" cx="487.7" cy="413.6" rx="7.6" ry="3.1" style="stroke-width:1.3"/><ellipse class="n" cx="487.7" cy="413.90000000000003" rx="4.2" ry="1.7" style="stroke-width:1.4"/>
<ellipse class="p" cx="487.7" cy="438.5" rx="7.6" ry="3.1" style="stroke-width:1.3"/><ellipse class="n" cx="487.7" cy="438.8" rx="4.2" ry="1.7" style="stroke-width:1.4"/>
</g>
<g>
<path class="p" d="M682.5,388.1 L667,391.5 L667,399.1 L684.6,395.6 Z"/>
<ellipse class="p" cx="666.5" cy="395.3" rx="1.7" ry="3.9"/>
<ellipse class="p" cx="689.8" cy="389.79999999999995" rx="7.9" ry="5.6" style="stroke-width:1.3"/><ellipse class="n" cx="690.0999999999999" cy="387.7" rx="6.2" ry="3.1" style="stroke-width:1.5"/><path class="n" d="M684.5999999999999,389.09999999999997 Q689.8,392.59999999999997 695.4,389.09999999999997"/>
<g><path class="p" d="M682.0999999999999,351.9 Q689.3,347.9 696.5,351.9 L696.3,356.3 Q689.3,359.5 682.3,356.3 Z"/><path class="t" d="M682.0999999999999,351.9 Q689.3,355.3 696.5,351.9 M686.5,353.7 V358.0 M692.5,353.59999999999997 V357.9"/><path class="p" d="M685.3,357.7 V371.7 Q689.3,373.7 693.3,371.7 V357.7"/><ellipse class="n" cx="689.3" cy="361.2" rx="1.6" ry="2.2"/><path class="n" d="M685.3,364.2 L693.3,365.1 M685.3,366.1 L693.3,367.0 M685.3,368.0 L693.3,368.9 M685.3,369.9 L693.3,370.8 M685.3,371.8 L693.3,372.7 "/></g>
<ellipse class="p" cx="689.4" cy="378.4" rx="7.6" ry="3.1" style="stroke-width:1.3"/><ellipse class="n" cx="689.4" cy="378.7" rx="4.2" ry="1.7" style="stroke-width:1.4"/>
<ellipse class="p" cx="689.4" cy="402.2" rx="7.6" ry="3.1" style="stroke-width:1.3"/><ellipse class="n" cx="689.4" cy="402.5" rx="4.2" ry="1.7" style="stroke-width:1.4"/>
</g>
<g>
<!-- right fitting behind -->
<path class="p" d="M646.2,392 L648.5,389.8 L652.5,390 L654.5,392.5 L654.5,398 L653,400 L646.2,396 Z"/>
<path class="t" d="M648.5,389.8 L649.5,397.5 M652.5,390 V399.5"/>
<path class="p" d="M601.2,392.9 L637.9,386.7 L653.5,400.2 L653.5,418.8 L617.2,425.1 L601.2,410.5 Z"/>
<path class="n" d="M601.2,392.9 L617.2,406.8 L653.5,400.2 M617.2,406.8 V425.1"/>
<!-- left fitting -->
<path class="p" d="M601,400.2 L606,401 L609,404.5 L609,410 L606.5,412.3 L601.5,413.5 Z"/>
<path class="p" d="M590.2,404 L592.5,400.8 L598,400.2 L601.6,402.5 L601.6,411 L599,413.5 L593.5,413.9 L590.2,411 Z"/>
<path class="t" d="M592.5,400.8 L593.5,413.9 M598,400.2 L599,413.5"/>
<ellipse class="n" cx="592" cy="407.3" rx="1.5" ry="3.3"/>
<circle class="p" cx="627.4" cy="415" r="6.2" style="stroke-width:1.5"/><circle class="n" cx="627.6" cy="415.2" r="3.5"/><circle class="n" cx="627.8" cy="415.4" r="1.7"/>
<circle class="p" cx="646.7" cy="411.7" r="6.2" style="stroke-width:1.5"/><circle class="n" cx="646.9" cy="411.9" r="3.5"/><circle class="n" cx="647.1" cy="412.1" r="1.7"/>
<path class="f" d="M619.2,375.3 L624.4,411.6 M619.2,375.3 L644.1,409.5" style="stroke:#000"/>
</g>
<g>
<!-- barrel -->
<path class="p" d="M76,398.5 L253,367.3 L289.3,364.2 C 296,370 299,380 298.6,390 C 298.3,402 296,412 290.3,417.1 L75,454.3 Z" style="stroke:none"/>
<path class="n" d="M97.4,394 L253,367.3 M289.3,364.2 C 296,370 299,380 298.6,390 C 298.3,402 296,412 290.3,417.1 L75,454.3"/>
<!-- end cap -->
<ellipse class="p" cx="74.6" cy="426.7" rx="13.8" ry="27.6" transform="rotate(-3 74.6 426.7)"/>
<ellipse class="p" cx="71.3" cy="427" rx="13.8" ry="27.6" transform="rotate(-3 71.3 427)"/>
<path class="n" d="M60,415.5 C 66,414.5 72,420 72.8,430 C 73.5,438 71,447 67,451.5"/>
<path class="n" d="M64.5,414.3 C 70.5,414 76.5,420 77.3,430 C 78,440 75.5,449 71,453.5"/>
<!-- rod -->
<path class="p" d="M36.7,419.5 L60,415.5 C 66,414.5 72,420 72.8,430 C 73.2,435.5 72.3,440 71,443.5 L43.3,448.3 Z" style="stroke:none"/>
<path class="n" d="M36.7,419.5 L60,415.5 M43.3,448.3 L70.5,443.6"/>
<!-- port 1 -->
<path class="p" d="M82.3,390 V398.5 Q89.5,404 97.3,399.5 V389.6 Z"/>
<ellipse class="p" cx="89.8" cy="389.8" rx="7.5" ry="3.2"/>
<ellipse class="n" cx="89.8" cy="390" rx="4.6" ry="1.9" style="stroke-width:1.4"/>
<!-- port 2 -->
<path class="p" d="M253,360 V369 Q259.5,373.5 266.4,369.5 V359.6 Z"/>
<ellipse class="p" cx="259.6" cy="359.7" rx="6.7" ry="2.9"/>
<ellipse class="n" cx="259.6" cy="359.9" rx="4" ry="1.7" style="stroke-width:1.4"/>
<!-- lug -->
<path class="p" d="M264.4,355.5 C 264.5,352 267,349.8 269.8,351.3 L277.9,358 L285.1,361.1 C 290,363 292,368 290.3,371.5 C 288.5,375.5 284,376.3 280.5,374.3 L276.8,370.5 L271.7,366.3 L267,364.3"/>
<circle class="p" cx="284.5" cy="370.3" r="3.8"/>
<circle class="n" cx="285.1" cy="370.6" r="2.4"/>
<path class="f" d="M97.4,393.5 L266,441.2 M261.3,364.3 L275.8,444.5" style="stroke:#000"/>
</g>
<g><path class="p" d="M120,374.9 L243,352.5 L246.2,356.8 L123.9,379.1 Z"/><path class="n" d="M124.0,374.2 L127.8,378.4 M127.9,373.5 L131.8,377.7 M131.9,372.7 L135.7,376.9 M135.9,372.0 L139.7,376.2 M139.8,371.3 L143.6,375.5 M143.8,370.6 L147.6,374.8 M147.8,369.8 L151.5,374.1 M151.7,369.1 L155.5,373.3 M155.7,368.4 L159.4,372.6 M159.7,367.7 L163.4,371.9 M163.6,367.0 L167.3,371.2 M167.6,366.2 L171.2,370.5 M171.6,365.5 L175.2,369.7 M175.5,364.8 L179.1,369.0 M179.5,364.1 L183.1,368.3 M183.5,363.3 L187.0,367.6 M187.5,362.6 L191.0,366.9 M191.4,361.9 L194.9,366.2 M195.4,361.2 L198.9,365.4 M199.4,360.4 L202.8,364.7 M203.3,359.7 L206.7,364.0 M207.3,359.0 L210.7,363.3 M211.3,358.3 L214.6,362.6 M215.2,357.6 L218.6,361.8 M219.2,356.8 L222.5,361.1 M223.2,356.1 L226.5,360.4 M227.1,355.4 L230.4,359.7 M231.1,354.7 L234.4,359.0 M235.1,353.9 L238.3,358.2 M239.0,353.2 L242.3,357.5 " style="stroke-width:1.3"/></g>
<path class="f" d="M163.2,352.4 V363.2 M141.7,311 V321.5"/>
<path d="M81,338.6 L253,308.9 C 260,307.8 265.5,308.6 269.5,312 L285.3,325.6" fill="none" stroke="#000" stroke-width="7.4" stroke-linecap="butt" stroke-linejoin="round"/>
<path d="M81,338.6 L253,308.9 C 260,307.8 265.5,308.6 269.5,312 L285.3,325.6" fill="none" stroke="#fff" stroke-width="5.5" stroke-linecap="butt" stroke-linejoin="round"/>
<ellipse class="p" cx="81" cy="338.6" rx="2.2" ry="3.7" transform="rotate(-9 81 338.6)"/>
<ellipse class="p" cx="285.3" cy="325.6" rx="2.9" ry="3.7" transform="rotate(40 285.3 325.6)"/>
<g id="labels" style="filter:grayscale(1)">
<text x="11.6" y="98.6">11</text>
<text x="158" y="152.7">10</text>
<text x="368.8" y="89.7">4</text>
<text x="552" y="86">13</text>
<text x="715.8" y="44.6">9</text>
<text x="769.3" y="167.4">2</text>
<text x="800" y="167.5">1</text>
<text x="371" y="172.7">d1</text>
<text class="s" transform="translate(358.6,170.4) scale(0.8,1)" style="font-size:15px">ø</text>
<text x="529.5" y="206" style="font-size:15px">D</text>
<text class="s" transform="translate(517.4,203.2) scale(0.8,1)" style="font-size:15px">ø</text>
<text x="525.2" y="249.1">7</text>
<text x="552.2" y="253.4">L</text>
<text x="163" y="247.7">L</text>
<text x="133" y="307">12</text>
<text x="159" y="349.3">8</text>
<text x="502.8" y="365.4">5</text>
<text x="425.2" y="420.8">6</text>
<text x="812" y="355">3</text>
<text x="686" y="261.7">14</text>
<text x="686" y="293.7">15</text>
<text x="735.5" y="278.6">L</text>
<text x="651" y="81">L</text>
<text x="249.8" y="457">G</text><text x="265.3" y="447.7">3</text><text x="273.6" y="456.5">/</text><text x="277.9" y="461.3">8</text><text x="286.2" y="456.9" style="font-size:12px">”</text>
<text x="588.5" y="370.7">R</text><text x="602.9" y="362.5">3</text><text x="611.2" y="371.6">/</text><text x="614.7" y="375">8</text><text x="623.6" y="370.8" style="font-size:12px">”</text>
</g>
</svg>
</body></html>
